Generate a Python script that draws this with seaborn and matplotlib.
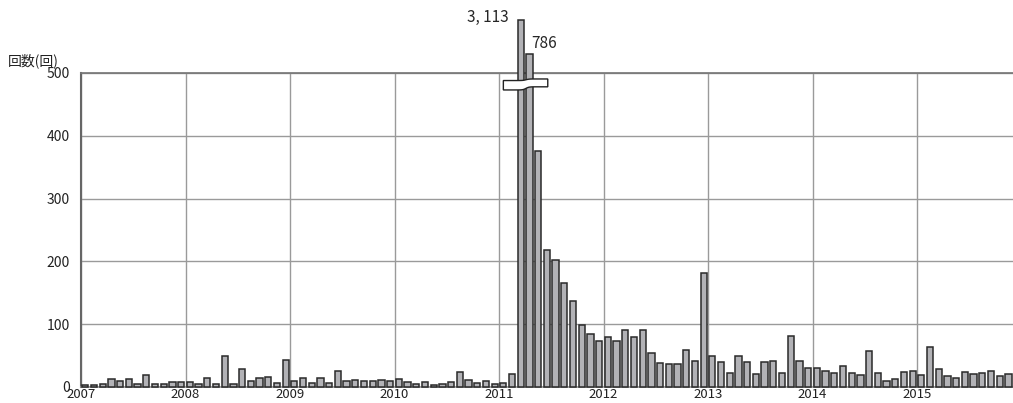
import matplotlib
matplotlib.use('Agg')
import matplotlib.pyplot as plt
import numpy as np
import pandas as pd
import seaborn as sns

# monthly counts, Jan 2007 .. Nov 2015
years = list(range(2007, 2016))
counts_2007 = [3, 3, 5, 12, 9, 12, 5, 19, 5, 5, 8, 8]
counts_2008 = [8, 5, 15, 4, 50, 4, 28, 9, 14, 16, 6, 43]
counts_2009 = [10, 15, 7, 15, 7, 25, 9, 11, 9, 9, 11, 9]
counts_2010 = [12, 8, 5, 8, 3, 5, 8, 24, 11, 6, 10, 4]
counts_2011 = [7, 20, 3113, 786, 376, 218, 202, 166, 137, 98, 84, 73]
counts_2012 = [80, 73, 91, 80, 91, 54, 39, 37, 37, 59, 42, 182]
counts_2013 = [49, 40, 22, 49, 40, 20, 40, 42, 22, 82, 42, 31]
counts_2014 = [30, 26, 23, 33, 23, 19, 57, 23, 10, 13, 24, 26]
counts_2015 = [19, 63, 28, 17, 15, 24, 21, 23, 26, 17, 21]
counts = (counts_2007 + counts_2008 + counts_2009 + counts_2010 + counts_2011
          + counts_2012 + counts_2013 + counts_2014 + counts_2015)
break_at = 500

sns.set_theme(style='white')
plt.rcParams['font.family'] = ['Liberation Sans Narrow', 'Noto Sans CJK JP', 'DejaVu Sans']

df = pd.DataFrame({'month': range(len(counts)), 'count': counts})
over = (df['count'] - break_at).clip(lower=0)
# values above the break are drawn compressed
df['shown'] = np.where(df['count'] > break_at, break_at + 2.43 * over ** 0.45, df['count'])

fig = plt.figure(figsize=(10.13, 4.03), dpi=100)
ax = fig.add_axes([81 / 1013, 16 / 403, 940.5 / 1013, 314 / 403])
sns.barplot(data=df, x='month', y='shown', color='#b2b2b6', edgecolor='#2a2a2a',
            linewidth=1.1, width=0.72, saturation=1, ax=ax, zorder=3)
for p in ax.patches:
    p.set_clip_on(False)

ax.set_xlim(-0.5, 107.5)
ax.set_ylim(0, 500)
ax.set_yticks(range(0, 501, 100))
ax.set_xticks([12 * i - 0.5 for i in range(len(years))])
ax.set_xticklabels([str(y) for y in years])
ax.grid(True, color='#9a9a9a', lw=1)
ax.set_axisbelow(True)
ax.tick_params(axis='y', direction='in', length=5, color='#555555', labelsize=10,
               pad=8, labelcolor='#222222')
ax.tick_params(axis='x', length=0, labelsize=9.5, pad=0.5, labelcolor='#222222')
ax.set_xlabel('')
ax.set_ylabel('')
ax.spines['left'].set_color('#666666')
ax.spines['left'].set_linewidth(1.5)
ax.spines['top'].set_color('#777777')
ax.spines['bottom'].set_color('#999999')
ax.spines['right'].set_visible(False)

# labels on the broken bars
big = df[df['count'] > break_at]
for i, (idx, row) in enumerate(big.iterrows()):
    txt = f"{int(row['count']):,}".replace(',', ', ')
    if i == 0:
        ax.annotate(txt, (row['month'], row['shown']), xytext=(-8.5, 2),
                    textcoords='offset points', ha='right', va='center',
                    fontsize=11, annotation_clip=False)
    else:
        ax.annotate(txt, (row['month'], row['shown']), xytext=(1, 7),
                    textcoords='offset points', ha='left', va='center',
                    fontsize=11, annotation_clip=False)

# break mark
xs = np.linspace(48.0, 53.1, 80)
s = (1 + np.tanh((xs - 50.6) / 0.35)) / 2
upper = 488 + 2.5 * s
lower = 473 + 5 * s
ax.fill(np.r_[xs, xs[::-1]], np.r_[upper, lower[::-1]], facecolor='white',
        edgecolor='#222222', lw=1, zorder=5, clip_on=False)

fig.text(8 / 1013, 1 - 61 / 403, '回数(回)', fontsize=10, va='center',
         family=['Noto Sans CJK JP'], color='#222222')

fig.savefig('out.png', dpi=100)
